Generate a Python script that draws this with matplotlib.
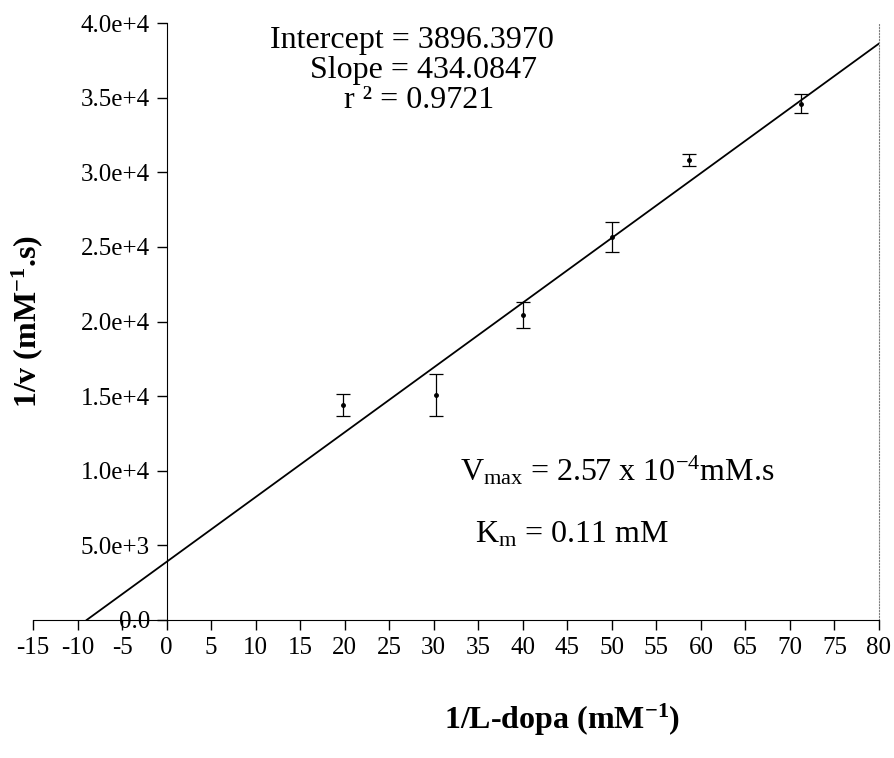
import numpy as np
import matplotlib
matplotlib.use('Agg')
import matplotlib.pyplot as plt

plt.rcParams['font.family'] = ['Liberation Serif', 'DejaVu Serif']
plt.rcParams['mathtext.fontset'] = 'custom'
plt.rcParams['mathtext.rm'] = 'Liberation Serif'
plt.rcParams['mathtext.it'] = 'Liberation Serif:italic'
plt.rcParams['mathtext.bf'] = 'Liberation Serif:bold'

# data
inv_dopa = [19.8, 30.3, 40.0, 50.0, 58.7, 71.2]
inv_v = [14400, 15100, 20450, 25650, 30850, 34600]
inv_v_err = [740, 1400, 870, 1000, 400, 650]

intercept = 3896.3970
slope = 434.0847
r2 = 0.9721

x_ticks = list(range(-15, 81, 5))
y_ticks = [0, 5000, 10000, 15000, 20000, 25000, 30000, 35000, 40000]
y_tick_labels = ['0.0', '5.0e+3', '1.0e+4', '1.5e+4', '2.0e+4',
                 '2.5e+4', '3.0e+4', '3.5e+4', '4.0e+4']

fig = plt.figure(figsize=(8.95, 7.58), dpi=100)
ax = fig.add_axes([33 / 895, 1 - 620 / 758, 846 / 895, 597 / 758])

# regression line, from the x intercept to the right edge
x_fit = np.array([-intercept / slope, 80])
ax.plot(x_fit, intercept + slope * x_fit, color='black', lw=1.3)

ax.errorbar(inv_dopa, inv_v, yerr=inv_v_err, fmt='o', color='black',
            ms=2.5, elinewidth=0.9, capsize=5, capthick=0.9)

ax.set_xlim(-15, 80)
ax.set_ylim(0, 40000)
ax.set_xticks(x_ticks)
ax.set_xticklabels([str(t) for t in x_ticks])
ax.set_yticks(y_ticks)
ax.set_yticklabels(y_tick_labels)

ax.spines['left'].set_position(('data', 0))
ax.spines['top'].set_visible(False)
ax.spines['right'].set_linestyle(':')
ax.spines['right'].set_color('0.5')
ax.spines['right'].set_linewidth(0.8)
ax.tick_params(axis='both', direction='out', length=7, width=1,
               labelsize=18, pad=5)
ax.tick_params(axis='y', right=False)

ax.set_xlabel(r'1/L-dopa (mM$^{\mathbf{-1}}$)', fontsize=23, fontweight='bold')
ax.xaxis.set_label_coords(0.625, -0.168)
ax.xaxis.label.set_verticalalignment('center')
ax.set_ylabel(r'1/v (mM$^{\mathbf{-1}}$.s)', fontsize=23, fontweight='bold')
ax.yaxis.set_label_coords(-0.007, 0.5)
ax.yaxis.label.set_verticalalignment('center')

ax.text(27.5, 38860, 'Intercept = %.4f' % intercept, fontsize=23,
        ha='center', va='center')
ax.text(28.8, 36850, 'Slope = %.4f' % slope, fontsize=23,
        ha='center', va='center')
ax.text(28.3, 34840, 'r \u00b2 = %.4f' % r2, fontsize=23,
        ha='center', va='center')

ax.text(32.9, 9380, r'V$_{\rm max}$ = 2.57 x 10$^{-4}$mM.s', fontsize=23,
        ha='left', va='baseline')
ax.text(34.6, 5160, r'K$_{\rm m}$ = 0.11 mM', fontsize=23,
        ha='left', va='baseline')

fig.savefig('out.png', dpi=100)
plt.close(fig)
